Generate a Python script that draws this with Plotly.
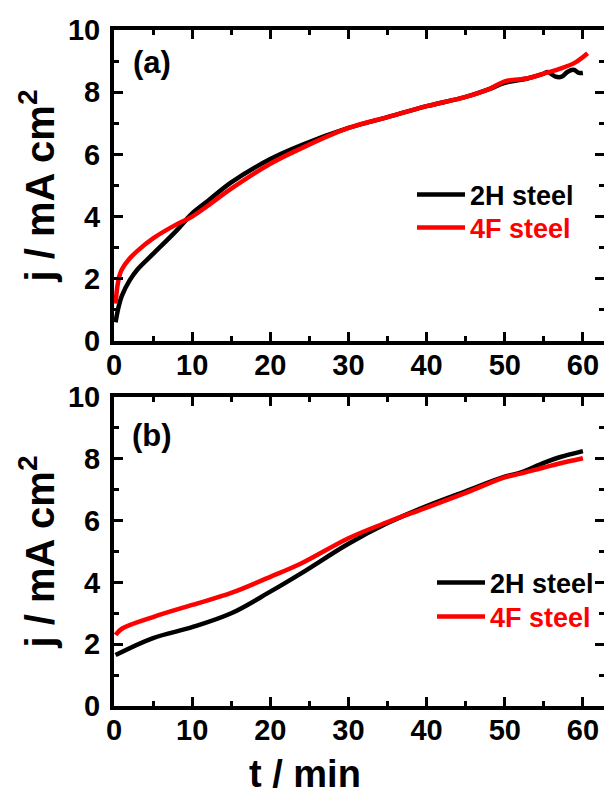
import plotly.graph_objects as go

# ---- data ----
t_a_2h = [0.2, 0.5, 1, 2, 3, 5, 8, 10, 12, 15, 20, 24, 30, 35, 40, 45, 48, 50, 53, 55, 55.5, 56.5, 57.3, 58, 58.8, 59.5, 60]
j_a_2h = [0.6, 1.0, 1.45, 1.95, 2.3, 2.8, 3.55, 4.1, 4.5, 5.1, 5.85, 6.3, 6.85, 7.2, 7.55, 7.85, 8.1, 8.3, 8.45, 8.6, 8.65, 8.5, 8.5, 8.65, 8.72, 8.62, 8.62]

t_a_4f = [0.2, 0.4, 0.7, 1, 2, 3, 5, 8, 10, 12, 15, 20, 24, 30, 35, 40, 45, 48, 50, 53, 55, 57, 59, 60.6]
j_a_4f = [1.2, 1.7, 2.1, 2.3, 2.65, 2.9, 3.3, 3.75, 4.0, 4.35, 4.9, 5.7, 6.2, 6.85, 7.2, 7.55, 7.85, 8.1, 8.35, 8.45, 8.6, 8.75, 8.95, 9.25]

t_b_2h = [0.2, 5, 10, 15, 20, 24, 30, 35, 40, 45, 50, 52, 55, 57, 60]
j_b_2h = [1.65, 2.2, 2.55, 3.0, 3.7, 4.3, 5.25, 5.92, 6.47, 6.95, 7.42, 7.55, 7.87, 8.05, 8.25]

t_b_4f = [0.2, 1, 5, 10, 15, 20, 24, 30, 35, 40, 45, 50, 52, 55, 57, 60]
j_b_4f = [2.3, 2.5, 2.88, 3.27, 3.66, 4.18, 4.62, 5.43, 5.95, 6.42, 6.9, 7.4, 7.52, 7.72, 7.85, 8.02]

series_names = ["2H steel", "4F steel"]
panel_labels = ["(a)", "(b)"]
x_title = "t / min"
y_title = "j / mA cm<sup>2</sup>"

W, H = 604, 798
FONT = "Liberation Sans, Arial, sans-serif"

fig = go.Figure()

def add_panel(idx, t2h, j2h, t4f, j4f, leg_black, leg_red):
    xa = "x" if idx == 1 else "x2"
    ya = "y" if idx == 1 else "y2"
    fig.add_trace(go.Scatter(x=t2h, y=j2h, mode="lines", name=series_names[0],
                             line=dict(color="black", width=4.5, shape="spline"),
                             xaxis=xa, yaxis=ya, legend=leg_black))
    fig.add_trace(go.Scatter(x=t4f, y=j4f, mode="lines",
                             name='<span style="color:#ff0000">' + series_names[1] + '</span>',
                             line=dict(color="#ff0000", width=4.5, shape="spline"),
                             xaxis=xa, yaxis=ya, legend=leg_red))

add_panel(1, t_a_2h, j_a_2h, t_a_4f, j_a_4f, "legend", "legend2")
add_panel(2, t_b_2h, j_b_2h, t_b_4f, j_b_4f, "legend3", "legend4")

x_dom = [114 / W, 1.0]
top_dom = [1 - 341 / H, 1 - 30 / H]
bot_dom = [1 - 706 / H, 1 - 397 / H]

tickfont = dict(family=FONT, size=29, color="black", weight="bold")

def xaxis_cfg(anchor):
    return dict(domain=x_dom, anchor=anchor, range=[0, 62.7], automargin=False,
                tickmode="linear", tick0=0, dtick=10,
                ticks="inside", ticklen=9, tickwidth=3, tickcolor="black",
                minor=dict(ticks="inside", ticklen=5, tickwidth=3, dtick=5, tickcolor="black"),
                showline=True, linewidth=4, linecolor="black", mirror="ticks",
                showgrid=False, zeroline=False, tickfont=tickfont,
                ticklabelstandoff=-5)

def yaxis_cfg(anchor, dom):
    return dict(domain=dom, anchor=anchor, range=[0, 10], automargin=False,
                tickmode="linear", tick0=0, dtick=2,
                ticks="inside", ticklen=9, tickwidth=3, tickcolor="black",
                minor=dict(ticks="inside", ticklen=5, tickwidth=3, dtick=1, tickcolor="black"),
                showline=True, linewidth=4, linecolor="black", mirror="ticks",
                showgrid=False, zeroline=False, tickfont=tickfont,
                ticklabelstandoff=4,
                title=dict(text=y_title, font=dict(family=FONT, size=40, color="black", weight="bold"),
                           standoff=2))

legend_common = dict(bgcolor="rgba(0,0,0,0)", borderwidth=0,
                     font=dict(family=FONT, size=27, color="black", weight="bold"),
                     xanchor="left", yanchor="middle", tracegroupgap=0, itemwidth=48)

fig.update_layout(
    width=W, height=H,
    margin=dict(l=0, r=0, t=0, b=0),
    paper_bgcolor="white", plot_bgcolor="white",
    showlegend=True,
    xaxis=xaxis_cfg("y"),
    yaxis=yaxis_cfg("x", top_dom),
    xaxis2=xaxis_cfg("y2"),
    yaxis2=yaxis_cfg("x2", bot_dom),
    legend=dict(x=412 / W, y=1 - 195 / H, **legend_common),
    legend2=dict(x=412 / W, y=1 - 228 / H, **legend_common),
    legend3=dict(x=432 / W, y=1 - 583 / H, **legend_common),
    legend4=dict(x=432 / W, y=1 - 617 / H, **legend_common),
    annotations=[
        dict(text=panel_labels[0], xref="paper", yref="paper", x=152 / W, y=1 - 62 / H,
             showarrow=False, xanchor="center", yanchor="middle",
             font=dict(family=FONT, size=31, color="black", weight="bold")),
        dict(text=panel_labels[1], xref="paper", yref="paper", x=152 / W, y=1 - 435 / H,
             showarrow=False, xanchor="center", yanchor="middle",
             font=dict(family=FONT, size=31, color="black", weight="bold")),
        dict(text=x_title, xref="paper", yref="paper", x=305 / W, y=1 - 774 / H,
             showarrow=False, xanchor="center", yanchor="middle",
             font=dict(family=FONT, size=38, color="black", weight="bold")),
    ],
)

fig.write_html("out.html")
